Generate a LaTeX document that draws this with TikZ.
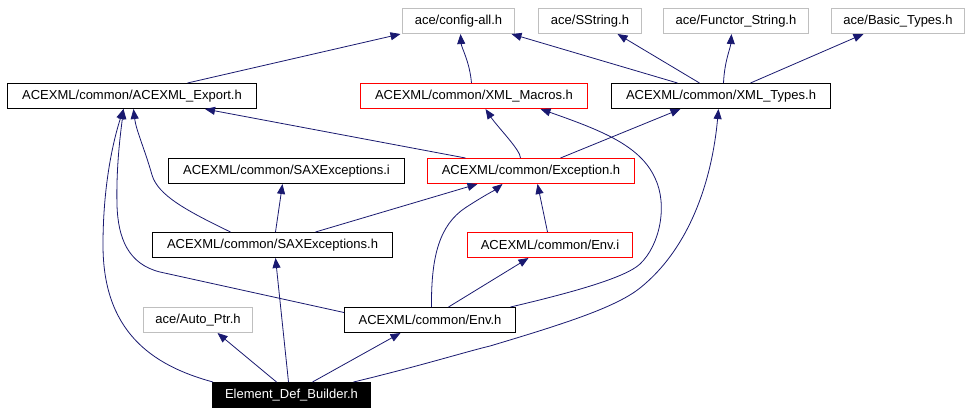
\documentclass[tikz,border=0pt]{standalone}
\usepackage{fontspec}
\setmainfont{Liberation Sans}
\usetikzlibrary{arrows.meta}
\definecolor{edgeblue}{RGB}{25,25,112}
\definecolor{boxgray}{RGB}{191,191,191}
\begin{document}
\begin{tikzpicture}[x=1pt,y=-1pt,
  box/.style={draw=black,line width=1pt,minimum height=25pt,inner sep=0pt,anchor=north west,font=\fontsize{13}{15}\selectfont,fill=white},
  graybox/.style={box,draw=boxgray},
  redbox/.style={box,draw=red},
  mainbox/.style={box,fill=black,text=white},
  edge/.style={draw=edgeblue,line width=0.8pt,-{Triangle[length=10pt,width=8pt]}}]
\useasboundingbox[fill=white] (0,0) rectangle (971,413);
% nodes
\node[graybox,minimum width=112pt] (cfg) at (402,8) {ace/config-all.h};
\node[graybox,minimum width=103pt] (sstr) at (538,8) {ace/SString.h};
\node[graybox,minimum width=145pt] (func) at (663,8) {ace/Functor\_String.h};
\node[graybox,minimum width=133pt] (basic) at (831,8) {ace/Basic\_Types.h};
\node[box,minimum width=249pt] (exp) at (7,83) {ACEXML/common/ACEXML\_Export.h};
\node[redbox,minimum width=227pt] (mac) at (360,83) {ACEXML/common/XML\_Macros.h};
\node[box,minimum width=219pt] (types) at (611,83) {ACEXML/common/XML\_Types.h};
\node[box,minimum width=236pt] (saxi) at (168,158) {ACEXML/common/SAXExceptions.i};
\node[redbox,minimum width=207pt] (exc) at (427,158) {ACEXML/common/Exception.h};
\node[box,minimum width=240pt] (saxh) at (152,232) {ACEXML/common/SAXExceptions.h};
\node[redbox,minimum width=165pt] (envi) at (467,232) {ACEXML/common/Env.i};
\node[graybox,minimum width=109pt] (auto) at (143,307) {ace/Auto\_Ptr.h};
\node[box,minimum width=171pt] (envh) at (344,307) {ACEXML/common/Env.h};
\node[mainbox,minimum width=158pt] (edb) at (212,382) {Element\_Def\_Builder.h};
% edges
\draw[edge] ([xshift=55.5pt]exp.north) -- ([xshift=-58pt]cfg.south);
\draw[edge] ([xshift=-2.5pt]mac.north) .. controls +(-2,-22) and +(1,14) .. ([xshift=2pt]cfg.south);
\draw[edge] ([xshift=-43.5pt]types.north) -- ([xshift=53pt]cfg.south);
\draw[edge] ([xshift=-21.5pt]types.north) -- ([xshift=27.5pt]sstr.south);
\draw[edge] ([xshift=2.5pt]types.north) .. controls +(1,-22) and +(-1,14) .. ([xshift=-4.5pt]func.south);
\draw[edge] ([xshift=29.5pt]types.north) -- ([xshift=-34.5pt]basic.south);
\draw[edge] ([xshift=-65.5pt]exc.north) -- ([xshift=73pt]exp.south);
\draw[edge] ([xshift=-10.5pt]exc.north) .. controls +(0,-8) and +(12,18) .. ([xshift=11.5pt]mac.south);
\draw[edge] ([xshift=29.5pt]exc.north) -- ([xshift=-40.5pt]types.south);
\draw[edge] ([xshift=-42pt]saxh.north) .. controls (185,210) and (158,195) .. (152,175) .. controls (145,150) and (136,130) .. ([xshift=1.5pt]exp.south);
\draw[edge] ([xshift=3pt]saxh.north) -- ([xshift=-4pt]saxi.south);
\draw[edge] ([xshift=43pt]saxh.north) -- ([xshift=-53.5pt]exc.south);
\draw[edge] ([xshift=-2.5pt]envi.north) -- ([xshift=6.5pt]exc.south);
\draw[edge] ([yshift=7.5pt]envh.west) -- (160,272) .. controls (128,264) and (118,238) .. (117,205) .. controls (116,165) and (121,130) .. ([xshift=-8.5pt]exp.south);
\draw[edge] ([xshift=1.5pt]envh.north) .. controls (431,255) and (440,225) .. (465,208) .. controls (485,195) and (495,190) .. ([xshift=-28.5pt]exc.south);
\draw[edge] ([xshift=18.5pt]envh.north) -- ([xshift=-21.5pt]envi.south);
\draw[edge] ([xshift=80.5pt]envh.north) .. controls (570,293) and (625,278) .. (640,264) .. controls (660,245) and (668,205) .. (655,178) .. controls (640,145) and (600,130) .. ([xshift=66.5pt]mac.south);
\draw[edge] ([xshift=1pt]edb.north west) .. controls (150,365) and (103,330) .. (103,245) .. controls (103,180) and (115,135) .. ([xshift=-8.5pt]exp.south);
\draw[edge] ([xshift=-3pt]edb.north) -- ([xshift=3pt]saxh.south);
\draw[edge] ([xshift=-15pt]edb.north) -- ([xshift=19.5pt]auto.south);
\draw[edge] ([xshift=21pt]edb.north) -- ([xshift=-29.5pt]envh.south);
\draw[edge] ([xshift=62pt]edb.north) .. controls (420,366) and (465,352) .. (490,346) .. controls (560,325) and (615,308) .. (640,288) .. controls (690,248) and (712,180) .. ([xshift=-2.5pt]types.south);
\end{tikzpicture}
\end{document}
